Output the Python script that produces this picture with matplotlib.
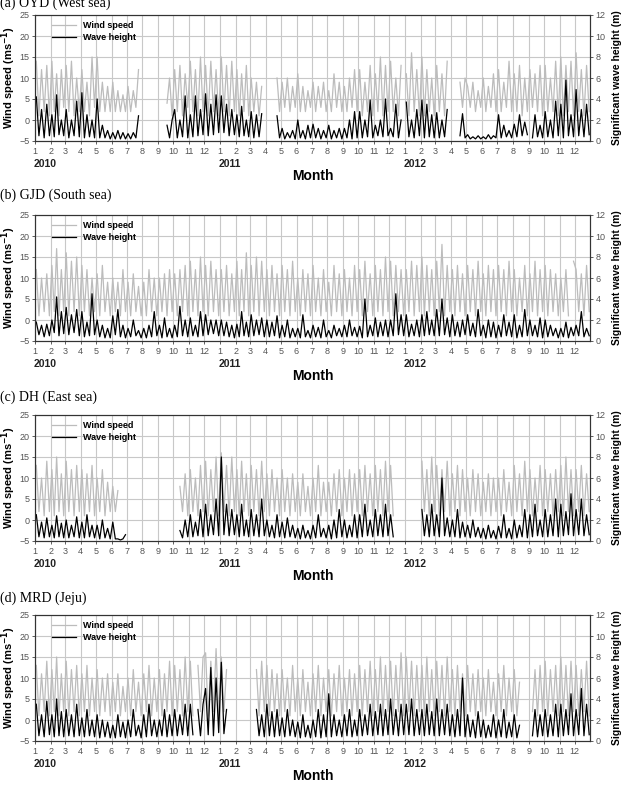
import numpy as np
import pandas as pd
import matplotlib
matplotlib.use('Agg')
import matplotlib.pyplot as plt
from matplotlib.transforms import blended_transform_factory

plt.rcParams['font.family'] = ['Liberation Sans', 'DejaVu Sans']

nan = np.nan

# Panel titles
titles = ['(a) OYD (West sea)', '(b) GJD (South sea)', '(c) DH (East sea)', '(d) MRD (Jeju)']
years = ['2010', '2011', '2012']
month_labels = [str(m) for m in range(1, 13)] * 3

# Values: 6 samples per month (Jan 2010 - Dec 2012)
# wind speed (m/s) and significant wave height (m)
oyd_wind = [
    14, 1, 12, 2, 13, 1,  14, 2, 11, 1, 12, 3,  13, 2, 14, 1, 10, 2,  12, 2, 9, 1, 15, 3,
    15, 2, 9, 2, 8, 2,  9, 2, 7, 2, 6, 2,  8, 2, 7, 3, 12, nan,  nan, nan, nan, nan, nan, nan,
    nan, nan, nan, 4, 10, 1,  12, 2, 13, 1, 11, 3,  14, 2, 12, 1, 15, 2,  13, 1, 14, 2, 12, 1,
    15, 2, 13, 1, 14, 2,  12, 1, 11, 2, 13, 1,  10, 2, 9, 1, 8, nan,  nan, nan, nan, nan, 10, 2,
    9, 3, 10, 2, 8, 3,  11, 2, 8, 2, 7, 3,  9, 2, 8, 3, 9, 2,  7, 2, 11, 3, 9, 2,
    8, 2, 10, 3, 12, 2,  12, 1, 9, 2, 13, 1,  11, 2, 15, 1, 13, 2,  14, 2, 10, 1, 13, nan,
    11, 1, 16, 2, 12, 1,  15, 1, 12, 2, 10, 1,  13, 2, 11, 1, 14, nan,  nan, nan, nan, 9, 3, 10,
    8, 3, 9, 2, 7, 3,  10, 2, 8, 3, 11, 2,  12, 2, 9, 3, 14, 2,  11, 2, 13, 1, 10, 2,
    12, 3, 11, 2, 13, 1,  13, 2, 10, 2, 14, 1,  15, 1, 13, 2, 14, 1,  16, 2, 12, 1, 13, 2,
]
oyd_wave = [
    4.2, 0.5, 3.0, 0.3, 3.5, 0.5,  2.5, 0.4, 4.4, 0.6, 2.0, 0.5,  3.0, 0.3, 2.0, 0.5, 3.8, 0.4,  4.6, 0.3, 2.5, 0.4, 2.0, 0.3,
    4.0, 0.3, 1.5, 0.3, 1.0, 0.2,  0.8, 0.2, 1.0, 0.2, 0.8, 0.2,  0.7, 0.2, 0.8, 0.3, 2.4, nan,  nan, nan, nan, nan, nan, nan,
    nan, nan, nan, 1.5, 0.3, 2.0,  3.0, 0.3, 2.0, 0.4, 4.3, 0.3,  2.5, 0.4, 4.3, 0.5, 3.0, 0.6,  4.5, 0.5, 3.5, 0.6, 4.4, 0.8,
    4.3, 0.8, 3.5, 0.5, 3.0, 0.6,  2.5, 0.4, 3.3, 0.5, 2.0, 0.4,  2.8, 0.3, 2.5, 0.4, 2.6, nan,  nan, nan, nan, nan, 2.4, 0.3,
    1.2, 0.2, 0.8, 0.3, 1.0, 0.2,  2.0, 0.3, 1.0, 0.2, 1.5, 0.3,  1.6, 0.3, 1.2, 0.2, 1.0, 0.3,  1.5, 0.2, 1.0, 0.3, 1.2, 0.2,
    1.2, 0.3, 2.0, 0.2, 2.8, 0.3,  2.8, 0.3, 2.0, 0.4, 3.9, 0.3,  1.5, 0.5, 2.0, 0.4, 4.0, 0.5,  1.2, 0.4, 3.5, 0.3, 2.0, nan,
    3.7, 0.4, 2.0, 0.3, 3.0, 0.5,  3.9, 0.3, 3.5, 0.4, 2.5, 0.3,  2.7, 0.3, 2.0, 0.4, 3.0, nan,  nan, nan, nan, 0.5, 2.6, 0.3,
    0.6, 0.2, 0.4, 0.2, 0.5, 0.2,  0.4, 0.2, 0.6, 0.2, 0.5, 0.3,  2.5, 0.3, 1.5, 0.4, 1.0, 0.3,  1.6, 0.4, 2.5, 0.5, 1.8, 0.6,
    nan, 0.3, 2.5, 0.4, 1.5, 0.3,  2.8, 0.4, 2.0, 0.3, 3.8, 0.5,  3.5, 0.3, 5.8, 0.5, 2.5, 0.4,  4.9, 0.5, 3.0, 0.4, 3.5, 0.6,
]
gjd_wind = [
    12, 1, 10, 2, 11, 1,  13, 2, 17, 1, 12, 2,  16, 1, 14, 2, 15, 1,  13, 2, 12, 1, 10, 2,
    11, 1, 13, 2, 9, 1,  10, 2, 9, 1, 12, 2,  9, 1, 11, 2, 8, 1,  9, 1, 12, 2, 10, 1,
    10, 2, 11, 1, 12, 2,  11, 1, 12, 2, 13, 1,  14, 2, 12, 1, 15, 2,  13, 1, 14, 2, 12, 1,
    12, 2, 13, 1, 11, 2,  14, 1, 12, 2, 16, 1,  13, 2, 15, 1, 14, 2,  12, 1, 13, 2, 11, 1,
    13, 2, 12, 1, 14, 2,  10, 1, 12, 2, 11, 1,  13, 2, 10, 1, 12, 2,  9, 1, 13, 2, 11, 1,
    12, 2, 10, 1, 13, 2,  12, 1, 14, 2, 11, 1,  13, 2, 12, 1, 15, 2,  14, 1, 13, 2, 12, 1,
    12, 2, 14, 1, 13, 2,  15, 1, 13, 2, 12, 1,  14, 2, 18, 1, 13, 2,  12, 1, 13, 2, 11, 1,
    13, 2, 12, 1, 14, 2,  11, 1, 13, 2, 12, 1,  13, 2, 12, 1, 14, 2,  12, 1, 10, 2, 13, 1,
    11, 2, 14, 1, 12, 2,  13, 1, 12, 2, 11, 1,  10, 2, 12, 1, nan, 14,  12, 2, 11, 1, 13, 2,
]
gjd_wave = [
    1.8, 0.6, 1.5, 0.4, 1.6, 0.5,  2.0, 0.8, 4.2, 0.5, 2.8, 0.7,  3.2, 0.6, 2.5, 0.8, 3.0, 0.5,  2.8, 0.4, 1.8, 0.5, 4.5, 0.6,
    2.0, 0.4, 1.5, 0.3, 1.2, 0.3,  2.4, 0.6, 3.0, 0.4, 1.5, 0.3,  1.2, 0.4, 2.0, 0.5, 1.0, 0.3,  1.2, 0.3, 1.5, 0.4, 2.8, 0.5,
    1.5, 0.3, 2.2, 0.4, 1.2, 0.3,  1.5, 0.4, 3.3, 0.5, 2.0, 0.4,  2.2, 0.5, 1.5, 0.4, 2.8, 0.5,  2.5, 0.6, 2.0, 0.7, 2.0, 0.5,
    2.0, 0.5, 1.8, 0.4, 1.5, 0.3,  1.6, 0.4, 2.8, 0.5, 1.8, 0.4,  2.5, 0.5, 2.0, 0.6, 2.2, 0.4,  2.0, 0.4, 1.8, 0.5, 2.4, 0.3,
    1.5, 0.4, 2.0, 0.3, 1.2, 0.4,  1.2, 0.3, 2.5, 0.4, 1.0, 0.3,  1.5, 0.4, 1.3, 0.3, 2.0, 0.4,  1.0, 0.3, 1.5, 0.5, 1.2, 0.4,
    1.5, 0.4, 2.0, 0.5, 1.3, 0.4,  1.4, 0.3, 4.0, 0.4, 1.5, 0.5,  2.2, 0.4, 1.8, 0.5, 2.0, 0.4,  2.0, 0.5, 4.5, 0.6, 2.5, 0.5,
    2.5, 0.4, 1.6, 0.5, 2.0, 0.4,  2.5, 0.5, 2.8, 0.6, 2.0, 0.5,  3.0, 0.5, 4.0, 0.6, 2.2, 0.4,  2.5, 0.5, 1.8, 0.4, 2.0, 0.6,
    2.5, 0.5, 1.7, 0.4, 3.0, 0.5,  1.5, 0.3, 2.0, 0.4, 1.8, 0.3,  1.5, 0.4, 2.5, 0.5, 1.8, 0.4,  2.5, 0.3, 1.5, 0.4, 3.0, 0.5,
    2.0, 0.5, 1.5, 0.4, 2.2, 0.3,  2.0, 0.4, 1.5, 0.5, 1.2, 0.3,  1.2, 0.4, 1.8, 0.3, 1.3, 0.5,  1.5, 0.5, 2.8, 0.4, 1.2, 0.5,
]
dh_wind = [
    13, 2, 10, 1, 14, 2,  12, 1, 15, 2, 11, 1,  14, 2, 12, 1, 13, 2,  12, 1, 11, 2, 13, 1,
    10, 2, 12, 1, 9, 2,  8, 2, 7, nan, nan, nan,  nan, nan, nan, nan, nan, nan,  nan, nan, nan, nan, nan, nan,
    nan, nan, nan, nan, nan, nan,  nan, nan, 8, 2, 11, 1,  12, 2, 10, 1, 13, 2,  14, 1, 12, 2, 15, 1,
    16, 2, 13, 1, 15, 2,  12, 1, 14, 2, 11, 1,  13, 2, 12, 1, 14, 2,  11, 1, 12, 2, 10, 1,
    12, 2, 10, 1, 11, 2,  9, 1, 11, 2, 8, 1,  10, 2, 13, 1, 9, 2,  9, 1, 11, 2, 12, 1,
    10, 2, 12, 1, 11, 2,  12, 1, 13, 2, 11, 1,  13, 2, 12, 1, 14, 2,  13, 1, nan, nan, nan, nan,
    nan, nan, nan, nan, nan, nan,  14, 2, 12, 1, 15, 2,  13, 1, 12, 2, 14, 1,  11, 2, 13, 1, 12, 2,
    10, 1, 12, 2, 11, 1,  9, 2, 11, 1, 10, 2,  10, 1, 12, 2, 9, 1,  13, 2, 11, 1, 14, 2,
    12, 1, 10, 2, 13, 1,  12, 2, 11, 1, 12, 2,  13, 1, 15, 2, 12, 1,  12, 2, 13, 1, 11, 2,
]
dh_wave = [
    2.5, 0.4, 1.8, 0.3, 2.2, 0.4,  1.5, 0.3, 2.4, 0.4, 1.7, 0.3,  2.0, 0.3, 1.5, 0.4, 2.3, 0.3,  1.8, 0.3, 2.5, 0.4, 1.5, 0.3,
    1.5, 0.2, 2.0, 0.3, 1.2, 0.2,  1.8, 0.2, 0.2, 0.1, 0.2, 0.6,  nan, nan, nan, nan, nan, nan,  nan, nan, nan, nan, nan, nan,
    nan, nan, nan, nan, nan, nan,  nan, nan, 1.0, 0.3, 2.0, 0.4,  2.5, 0.4, 1.8, 0.5, 3.0, 0.4,  3.5, 0.5, 2.5, 0.6, 4.0, 0.5,
    8.0, 0.6, 3.5, 0.5, 3.0, 0.6,  2.5, 0.4, 3.5, 0.5, 2.0, 0.4,  3.0, 0.5, 2.5, 0.4, 4.0, 0.5,  2.0, 0.4, 1.5, 0.3, 2.5, 0.4,
    1.8, 0.3, 2.2, 0.4, 1.5, 0.3,  1.2, 0.2, 1.5, 0.3, 1.0, 0.2,  1.5, 0.3, 2.5, 0.4, 1.2, 0.3,  1.5, 0.2, 2.0, 0.3, 3.0, 0.4,
    2.0, 0.3, 1.5, 0.4, 2.5, 0.3,  2.5, 0.4, 3.5, 0.5, 2.0, 0.4,  3.0, 0.5, 2.5, 0.4, 3.5, 0.5,  2.5, 0.4, nan, nan, nan, nan,
    nan, nan, nan, nan, nan, nan,  3.0, 0.5, 2.5, 0.4, 3.5, 0.5,  2.5, 0.4, 6.0, 0.5, 2.2, 0.4,  2.0, 0.4, 3.0, 0.3, 1.8, 0.4,
    1.5, 0.3, 2.0, 0.4, 1.3, 0.3,  1.2, 0.2, 1.5, 0.3, 1.0, 0.2,  1.4, 0.3, 2.5, 0.3, 1.2, 0.2,  2.0, 0.3, 1.5, 0.4, 3.0, 0.3,
    2.5, 0.4, 3.5, 0.5, 2.0, 0.4,  3.0, 0.4, 2.5, 0.5, 4.0, 0.4,  3.5, 0.5, 2.8, 0.6, 4.5, 0.5,  3.0, 0.6, 4.0, 0.5, 2.5, 0.6,
]
mrd_wind = [
    13, 1, 11, 2, 14, 1,  12, 2, 15, 1, 11, 2,  14, 1, 12, 2, 13, 1,  11, 2, 13, 1, 10, 2,
    12, 1, 10, 2, 11, 1,  9, 2, 11, 1, 8, 2,  10, 1, 12, 2, 9, 1,  11, 2, 13, 1, 10, 2,
    12, 1, 11, 2, 14, 1,  13, 2, 12, 1, 15, 2,  14, 1, nan, 13, 2, 15,  16, 1, 14, 2, 17, 1,
    15, 2, 12, nan, nan, nan,  nan, nan, nan, nan, nan, nan,  nan, nan, 12, 1, 14, 2,  13, 1, 12, 2, 11, 1,
    12, 2, 10, 1, 13, 2,  10, 1, 12, 2, 9, 1,  11, 2, 13, 1, 10, 2,  12, 1, 11, 2, 13, 1,
    10, 2, 12, 1, 11, 2,  13, 1, 12, 2, 14, 1,  12, 2, 15, 1, 13, 2,  14, 1, 13, 2, 16, 1,
    15, 2, 14, 1, 13, 2,  13, 1, 15, 2, 12, 1,  14, 2, 13, 1, 15, 2,  12, 1, 13, 2, 11, 1,
    13, 2, 11, 1, 12, 2,  10, 1, 12, 2, 9, 1,  11, 2, 13, 1, 10, 2,  12, 1, 9, nan, 20, nan,
    nan, 2, 12, 1, 13, 2,  14, 1, 12, 2, 13, 1,  15, 2, 13, 1, 14, 2,  13, 1, 12, 2, 14, 1,
]
mrd_wave = [
    3.5, 0.5, 2.5, 0.4, 3.8, 0.6,  2.5, 0.4, 4.0, 0.5, 2.8, 0.4,  3.0, 0.5, 2.5, 0.4, 3.5, 0.5,  2.2, 0.4, 3.0, 0.5, 2.0, 0.4,
    2.5, 0.3, 2.0, 0.4, 1.8, 0.3,  1.5, 0.3, 2.5, 0.4, 1.8, 0.3,  2.0, 0.4, 3.0, 0.5, 1.5, 0.3,  2.5, 0.4, 3.5, 0.5, 2.0, 0.4,
    2.0, 0.5, 3.0, 0.4, 2.5, 0.5,  3.0, 0.5, 2.5, 0.6, 3.5, 0.5,  3.5, 0.6, nan, 3.0, 0.5, 3.5,  5.0, 0.6, 7.0, 0.5, 6.0, 0.8,
    7.5, 0.7, 3.0, nan, nan, nan,  nan, nan, nan, nan, nan, nan,  nan, nan, 3.0, 0.5, 2.5, 0.4,  3.5, 0.5, 2.8, 0.4, 3.0, 0.5,
    2.2, 0.4, 3.0, 0.5, 2.0, 0.4,  1.8, 0.3, 2.5, 0.4, 1.5, 0.3,  2.0, 0.4, 3.0, 0.3, 2.5, 0.4,  4.5, 0.4, 2.5, 0.5, 2.0, 0.4,
    2.5, 0.5, 3.0, 0.4, 2.0, 0.5,  3.0, 0.5, 2.5, 0.6, 3.5, 0.5,  2.8, 0.6, 3.5, 0.5, 3.0, 0.6,  4.0, 0.6, 3.0, 0.5, 3.5, 0.6,
    3.5, 0.6, 4.0, 0.5, 3.0, 0.6,  3.0, 0.5, 3.5, 0.6, 2.8, 0.5,  4.0, 0.5, 3.0, 0.6, 3.5, 0.5,  2.5, 0.4, 3.0, 0.5, 6.0, 0.4,
    2.5, 0.4, 2.0, 0.3, 2.8, 0.4,  2.0, 0.3, 1.5, 0.4, 2.5, 0.3,  2.0, 0.4, 3.0, 0.3, 1.8, 0.4,  2.5, 0.3, 1.5, nan, 9.5, nan,
    nan, 0.5, 3.0, 0.4, 2.5, 0.5,  3.0, 0.4, 2.5, 0.5, 3.5, 0.4,  3.5, 0.5, 3.0, 0.6, 4.5, 0.5,  3.0, 0.6, 5.0, 0.5, 3.5, 0.6,
]

wind_series = [oyd_wind, gjd_wind, dh_wind, mrd_wind]
wave_series = [oyd_wave, gjd_wave, dh_wave, mrd_wave]

# time axis in days since 2010-01-01
start = pd.Timestamp('2010-01-01')
month_starts = pd.date_range('2010-01-01', periods=37, freq='MS')
month_pos = np.array([(m - start).days for m in month_starts], dtype=float)
xs = []
for i in range(36):
    length = month_pos[i + 1] - month_pos[i]
    for k in range(6):
        xs.append(month_pos[i] + (k + 0.5) / 6 * length)
xs = np.array(xs)

W, H = 631, 793
fig = plt.figure(figsize=(W / 100, H / 100), dpi=100)

tops = [15, 215, 415, 615]
title_y = [3, 195, 397, 598]
grid_c = '#c8c8c8'
tick_c = '#555555'

for p in range(4):
    ax = fig.add_axes([35 / W, 1 - (tops[p] + 126) / H, 555 / W, 126 / H])
    ax2 = ax.twinx()
    lw, = ax.plot(xs, wind_series[p], color='#bcbcbc', lw=0.9, label='Wind speed')
    lh, = ax2.plot(xs, wave_series[p], color='black', lw=0.9, label='Wave height')

    ax.set_xlim(0, month_pos[-1] - 1)
    ax.set_ylim(-5, 25)
    ax2.set_ylim(0, 12)
    ax.set_yticks(range(-5, 26, 5))
    ax2.set_yticks(range(0, 13, 2))
    ax.set_xticks(month_pos[:36])
    ax.set_xticklabels(month_labels)
    ax.grid(True, color=grid_c, lw=0.8)
    ax.set_axisbelow(True)
    for a in (ax, ax2):
        a.tick_params(labelsize=6.5, labelcolor=tick_c, length=2.5, width=0.6,
                      color='#444444', pad=1.5)
        for s in a.spines.values():
            s.set_color('#333333')
            s.set_linewidth(0.8)

    ax.set_ylabel('Wind speed (ms$^{\\mathbf{-1}}$)', fontsize=8, fontweight='bold')
    ax.yaxis.set_label_coords(-0.031, 0.5)
    ax2.set_ylabel('Significant wave height (m)', fontsize=7.5, fontweight='bold', labelpad=5)

    tr = blended_transform_factory(ax.transData, ax.transAxes)
    for j, yr in enumerate(years):
        ax.text(month_pos[12 * j] - 2, -0.185, yr, transform=tr, ha='left', va='center',
                fontsize=7.5, fontweight='bold', color='#222222')
    ax.text(0.5, -0.28, 'Month', transform=ax.transAxes, ha='center', va='center',
            fontsize=10, fontweight='bold')

    ax.legend(handles=[lw, lh], loc='upper left', frameon=False,
              prop={'size': 6.5, 'weight': 'bold'}, handlelength=2.6,
              borderaxespad=0.3, labelspacing=0.3, bbox_to_anchor=(0.02, 1.0))

    fig.text(0, 1 - title_y[p] / H, titles[p], ha='left', va='center',
             fontsize=10, family='Liberation Serif')

fig.savefig('out.png', dpi=100)
